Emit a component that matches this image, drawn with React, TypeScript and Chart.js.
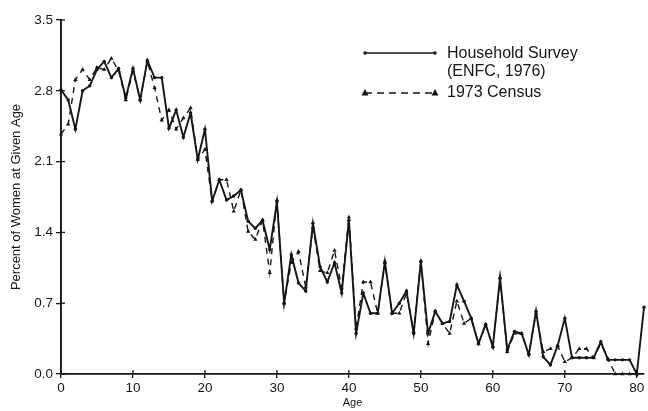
import React, { useEffect, useRef } from "react";
import { Chart, registerables } from "chart.js";

Chart.register(...registerables);

const surveyAges = [
  0, 1, 2, 3, 4, 5, 6, 7, 8, 9, 10, 11, 12, 13, 14, 15, 16, 17, 18, 19, 20,
  21, 22, 23, 24, 25, 26, 27, 28, 29, 30, 31, 32, 33, 34, 35, 36, 37, 38, 39, 40,
  41, 42, 43, 44, 45, 46, 47, 48, 49, 50, 51, 52, 53, 54, 55, 56, 57, 58, 59, 60,
  61, 62, 63, 64, 65, 66, 67, 68, 69, 70, 71, 72, 73, 74, 75, 76, 77, 78, 79, 80, 81,
];
const surveyValues = [
  2.81, 2.71, 2.42, 2.8, 2.85, 3.01, 3.09, 2.93, 3.02, 2.73, 3.02, 2.71, 3.1, 2.93, 2.93, 2.43, 2.61, 2.34, 2.58, 2.12, 2.42,
  1.71, 1.92, 1.72, 1.76, 1.82, 1.51, 1.44, 1.52, 1.23, 1.7, 0.7, 1.18, 0.9, 0.82, 1.49, 1.06, 0.91, 1.1, 0.8, 1.52,
  0.4, 0.8, 0.6, 0.6, 1.11, 0.6, 0.7, 0.82, 0.4, 1.11, 0.4, 0.62, 0.5, 0.52, 0.88, 0.72, 0.55, 0.3, 0.49, 0.27,
  0.95, 0.24, 0.42, 0.4, 0.19, 0.62, 0.17, 0.09, 0.28, 0.55, 0.16, 0.16, 0.16, 0.16, 0.32, 0.14, 0.14, 0.14, 0.14, 0.0, 0.66,
];

const censusAges = [
  0, 1, 2, 3, 4, 5, 6, 7, 8, 9, 10, 11, 12, 13, 14, 15, 16, 17, 18, 19, 20,
  21, 22, 23, 24, 25, 26, 27, 28, 29, 30, 31, 32, 33, 34, 35, 36, 37, 38, 39, 40,
  41, 42, 43, 44, 45, 46, 47, 48, 49, 50, 51, 52, 53, 54, 55, 56, 57, 58, 59, 60,
  61, 62, 63, 64, 65, 66, 67, 68, 69, 70, 71, 72, 73, 74, 75, 76, 77, 78, 79, 80,
];
const censusValues = [
  2.37, 2.47, 2.91, 3.01, 2.91, 3.03, 3.01, 3.12, 3.0, 2.71, 3.0, 2.71, 3.09, 2.83, 2.51, 2.61, 2.42, 2.53, 2.63, 2.12, 2.22,
  1.71, 1.92, 1.92, 1.61, 1.82, 1.41, 1.33, 1.52, 1.0, 1.72, 0.7, 1.1, 1.21, 0.86, 1.45, 1.02, 1.0, 1.22, 0.85, 1.55,
  0.45, 0.91, 0.91, 0.6, 1.1, 0.6, 0.6, 0.8, 0.42, 1.12, 0.3, 0.62, 0.5, 0.4, 0.72, 0.5, 0.55, 0.3, 0.49, 0.27,
  0.95, 0.22, 0.4, 0.4, 0.2, 0.6, 0.22, 0.25, 0.28, 0.12, 0.16, 0.25, 0.25, 0.16, 0.3, 0.15, 0.0, 0.0, 0.0, 0.0,
];

const xTickValues = [0, 10, 20, 30, 40, 50, 60, 70, 80];
const yTickValues = [0.0, 0.7, 1.4, 2.1, 2.8, 3.5];

const seriesNames = ["Household Survey", "(ENFC, 1976)", "1973 Census"];
const xTitle = "Age";
const yTitle = "Percent of Women at Given Age";

const INK = "#151515";
const FONT = "'Liberation Sans', Arial, sans-serif";

const extrasPlugin = {
  id: "extras",
  afterDraw(chart: any) {
    const ctx = chart.ctx;
    const area = chart.chartArea;
    const xs = chart.scales.x;
    const ys = chart.scales.y;
    ctx.save();
    ctx.strokeStyle = INK;
    ctx.lineWidth = 1.3;
    xTickValues.forEach((v) => {
      const px = xs.getPixelForValue(v);
      ctx.beginPath();
      ctx.moveTo(px, area.bottom);
      ctx.lineTo(px, area.bottom - 4);
      ctx.stroke();
    });
    yTickValues.forEach((v) => {
      const py = ys.getPixelForValue(v);
      ctx.beginPath();
      ctx.moveTo(area.left, py);
      ctx.lineTo(area.left + 4, py);
      ctx.stroke();
    });

    const lx0 = area.left + 304;
    const lx1 = area.left + 374;
    const tx = area.left + 386;
    const y1 = area.top + 33;
    const y2 = area.top + 52;
    const y3 = area.top + 73;
    ctx.fillStyle = INK;
    ctx.lineWidth = 1.5;
    ctx.setLineDash([]);
    ctx.beginPath();
    ctx.moveTo(lx0, y1);
    ctx.lineTo(lx1, y1);
    ctx.stroke();
    [lx0, lx1].forEach((x) => {
      ctx.beginPath();
      ctx.arc(x, y1, 1.7, 0, Math.PI * 2);
      ctx.fill();
    });
    ctx.lineWidth = 1.3;
    ctx.setLineDash([7, 5]);
    ctx.beginPath();
    ctx.moveTo(lx0, y3);
    ctx.lineTo(lx1, y3);
    ctx.stroke();
    ctx.setLineDash([]);
    [lx0, lx1].forEach((x) => {
      ctx.beginPath();
      ctx.moveTo(x, y3 - 4);
      ctx.lineTo(x + 3.5, y3 + 2.5);
      ctx.lineTo(x - 3.5, y3 + 2.5);
      ctx.closePath();
      ctx.fill();
    });
    ctx.font = `16px ${FONT}`;
    ctx.textAlign = "left";
    ctx.textBaseline = "middle";
    ctx.fillText(seriesNames[0], tx, y1 + 1);
    ctx.fillText(seriesNames[1], tx, y2);
    ctx.fillText(seriesNames[2], tx, y3);
    ctx.restore();
  },
};

export default function App() {
  const ref = useRef<HTMLCanvasElement | null>(null);

  useEffect(() => {
    if (!ref.current) return;
    const chart = new Chart(ref.current, {
      type: "line",
      data: {
        datasets: [
          {
            label: seriesNames[0],
            data: surveyAges.map((a, i) => ({ x: a, y: surveyValues[i] })),
            borderColor: INK,
            backgroundColor: INK,
            borderWidth: 1.9,
            pointRadius: 1.7,
            pointBackgroundColor: INK,
            pointBorderWidth: 0,
            tension: 0,
            clip: false as any,
          },
          {
            label: seriesNames[2],
            data: censusAges.map((a, i) => ({ x: a, y: censusValues[i] })),
            borderColor: INK,
            backgroundColor: INK,
            borderWidth: 1.4,
            borderDash: [6, 5],
            pointStyle: "triangle",
            pointRadius: 2.5,
            pointBackgroundColor: INK,
            pointBorderWidth: 0,
            tension: 0,
            clip: false as any,
          },
        ],
      },
      options: {
        animation: false,
        responsive: false,
        maintainAspectRatio: false,
        layout: { padding: { left: 0, right: 3, top: 20, bottom: 0 } },
        plugins: {
          legend: { display: false },
          tooltip: { enabled: false },
        },
        scales: {
          x: {
            type: "linear",
            min: 0,
            max: 81,
            afterBuildTicks: (s: any) => {
              s.ticks = xTickValues.map((v) => ({ value: v }));
            },
            afterFit: (s: any) => {
              s.height = 37;
            },
            grid: {
              display: true,
              drawOnChartArea: false,
              drawTicks: true,
              tickLength: 4,
              color: INK,
              lineWidth: 1.3,
            },
            border: { display: true, color: INK, width: 1.7 },
            ticks: {
              color: INK,
              font: { family: FONT, size: 13.5 },
              padding: 2,
              maxRotation: 0,
              autoSkip: false,
              callback: (v: any) => String(v),
            },
            title: {
              display: true,
              text: xTitle,
              color: INK,
              font: { family: FONT, size: 11 },
              padding: { top: 0, bottom: 1 },
            },
          },
          y: {
            type: "linear",
            min: 0,
            max: 3.5,
            afterBuildTicks: (s: any) => {
              s.ticks = yTickValues.map((v) => ({ value: v }));
            },
            afterFit: (s: any) => {
              s.width = 61;
            },
            grid: {
              display: true,
              drawOnChartArea: false,
              drawTicks: true,
              tickLength: 5,
              color: INK,
              lineWidth: 1.3,
            },
            border: { display: true, color: INK, width: 1.9 },
            ticks: {
              color: INK,
              font: { family: FONT, size: 13.5 },
              padding: 3,
              autoSkip: false,
              callback: (v: any) => Number(v).toFixed(1),
            },
            title: {
              display: true,
              text: yTitle,
              color: INK,
              font: { family: FONT, size: 13 },
              padding: { top: 9, bottom: 0 },
            },
          },
        },
      },
      plugins: [extrasPlugin],
    });
    return () => chart.destroy();
  }, []);

  return (
    <div style={{ position: "absolute", left: 0, top: 0, width: 648, height: 411, background: "#fff" }}>
      <canvas ref={ref} width={648} height={411} style={{ display: "block" }} />
    </div>
  );
}
